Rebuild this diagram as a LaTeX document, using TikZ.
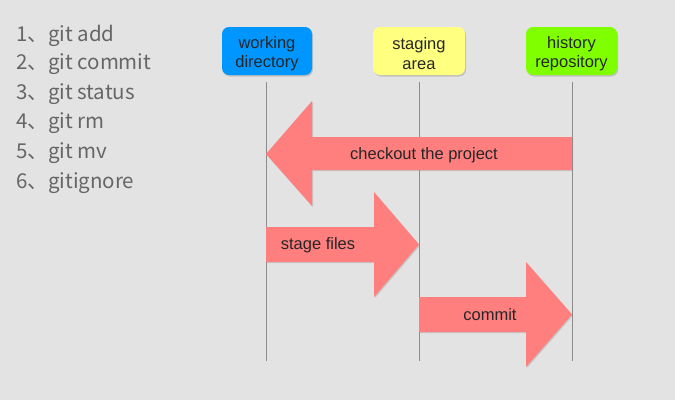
\documentclass[tikz,border=0pt]{standalone}
\usepackage{fontspec}
\setmainfont{Liberation Sans}
\newfontfamily\cjkfont{Noto Sans CJK JP}
\usetikzlibrary{shadows}
\definecolor{bg}{HTML}{E3E3E3}
\definecolor{wdblue}{HTML}{0096FF}
\definecolor{styellow}{HTML}{FFFF80}
\definecolor{hrgreen}{HTML}{80FF00}
\definecolor{arrowred}{HTML}{FF7F7F}
\definecolor{listgray}{HTML}{666666}
\definecolor{lanegray}{HTML}{8C8C8C}
\begin{document}
\begin{tikzpicture}[x=1pt,y=-1pt,
  stagebox/.style={rounded corners=7pt, minimum width=90pt, minimum height=48pt, inner sep=0pt,
    drop shadow={shadow xshift=1pt, shadow yshift=-1.5pt, opacity=0.35}},
  boxtext/.style={align=center, font=\fontsize{16.5pt}{19.5pt}\selectfont, text=black!85, inner sep=0pt},
  lane/.style={draw=lanegray, line width=0.7pt},
  bigarrow/.style={fill=arrowred, drop shadow={shadow xshift=1pt, shadow yshift=-1pt, opacity=0.3}},
  arrowlabel/.style={font=\fontsize{16.5pt}{19pt}\selectfont, text=black!85},
  listitem/.style={anchor=west, font=\cjkfont\fontsize{20.5pt}{24pt}\selectfont, text=listgray, inner sep=0pt}]
\fill[bg] (0,0) rectangle (675,400);
\useasboundingbox (0,0) rectangle (675,400);

% list
\node[listitem] (l1) at (16,35.5) {1、git add};
\node[listitem] (l2) at (16,64.5) {2、git commit};
\node[listitem] (l3) at (16,94) {3、git status};
\node[listitem] (l4) at (16,123.5) {4、git rm};
\node[listitem] (l5) at (16,153.5) {5、git mv};
\node[listitem] (l6) at (16,183.5) {6、gitignore};

% header boxes
\node[stagebox, fill=wdblue] (wd) at (267,51) {};
\node[stagebox, fill=styellow, minimum width=92pt] (sa) at (419,51) {};
\node[stagebox, fill=hrgreen, minimum width=91pt] (hr) at (571.5,51) {};
\node[boxtext] (wdt) at ([yshift=-2.5pt]wd.center) {working\\directory};
\node[boxtext] (sat) at ([yshift=-2.5pt]sa.center) {staging\\area};
\node[boxtext] (hrt) at ([yshift=-2.5pt]hr.center) {history\\repository};

% lanes
\coordinate (wdend) at (266,361);
\coordinate (saend) at (419,361);
\coordinate (hrend) at (572,361);
\draw[lane] (266,82) -- (wdend);
\draw[lane] (419,82) -- (saend);
\draw[lane] (572,82) -- (hrend);

% checkout arrow (left)
\fill[bigarrow] (266,154) -- (312,101) -- (312,137) -- (572,137) -- (572,170) -- (312,170) -- (312,206) -- cycle;
\node[arrowlabel] (co) at (424,155) {checkout the project};

% stage files arrow
\fill[bigarrow] (266,227) -- (374,227) -- (374,192) -- (419,244.5) -- (374,297) -- (374,262) -- (266,262) -- cycle;
\node[arrowlabel] (sf) at (318,245) {stage files};

% commit arrow
\fill[bigarrow] (419,297) -- (526,297) -- (526,262) -- (572,314.5) -- (526,367) -- (526,332) -- (419,332) -- cycle;
\node[arrowlabel] (cm) at (490,315) {commit};
\end{tikzpicture}
\end{document}
